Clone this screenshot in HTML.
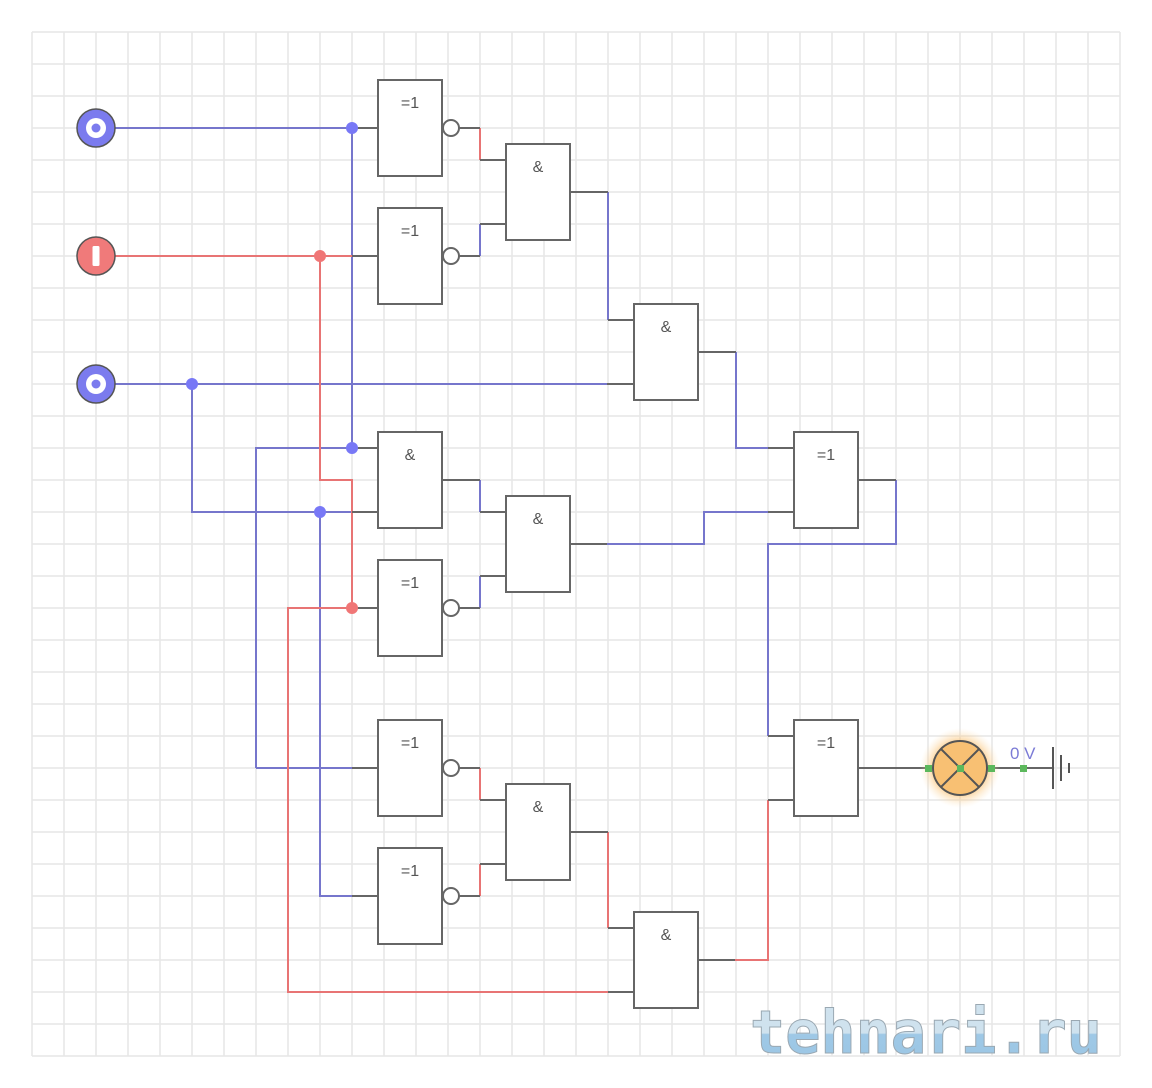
<!DOCTYPE html>
<html><head><meta charset="utf-8"><style>
html,body{margin:0;padding:0;background:#fff;}
svg{display:block;}
</style></head><body>
<svg width="1152" height="1088" viewBox="0 0 1152 1088" xmlns="http://www.w3.org/2000/svg">
<defs>
<radialGradient id="glow" cx="0.5" cy="0.5" r="0.5">
<stop offset="0.55" stop-color="#f9b55a" stop-opacity="0.9"/>
<stop offset="0.75" stop-color="#fbc67a" stop-opacity="0.45"/>
<stop offset="1" stop-color="#fde3bd" stop-opacity="0"/>
</radialGradient>
<linearGradient id="wm" x1="0" y1="0" x2="0" y2="1">
<stop offset="0" stop-color="#cfe2ee"/>
<stop offset="0.5" stop-color="#cfe2ee"/>
<stop offset="0.52" stop-color="#9ec8e6"/>
<stop offset="1" stop-color="#9cc6e4"/>
</linearGradient>
</defs>
<rect width="1152" height="1088" fill="#fff"/>
<g stroke="#e6e6e6" stroke-width="1.5">
<path d="M32 32V1056M64 32V1056M96 32V1056M128 32V1056M160 32V1056M192 32V1056M224 32V1056M256 32V1056M288 32V1056M320 32V1056M352 32V1056M384 32V1056M416 32V1056M448 32V1056M480 32V1056M512 32V1056M544 32V1056M576 32V1056M608 32V1056M640 32V1056M672 32V1056M704 32V1056M736 32V1056M768 32V1056M800 32V1056M832 32V1056M864 32V1056M896 32V1056M928 32V1056M960 32V1056M992 32V1056M1024 32V1056M1056 32V1056M1088 32V1056M1120 32V1056"/>
<path d="M32 32H1120M32 64H1120M32 96H1120M32 128H1120M32 160H1120M32 192H1120M32 224H1120M32 256H1120M32 288H1120M32 320H1120M32 352H1120M32 384H1120M32 416H1120M32 448H1120M32 480H1120M32 512H1120M32 544H1120M32 576H1120M32 608H1120M32 640H1120M32 672H1120M32 704H1120M32 736H1120M32 768H1120M32 800H1120M32 832H1120M32 864H1120M32 896H1120M32 928H1120M32 960H1120M32 992H1120M32 1024H1120M32 1056H1120"/>
</g>

<!-- watermark -->
<text x="750" y="1053" font-family="DejaVu Sans Mono, Liberation Mono, monospace" font-weight="bold" font-size="60" fill="url(#wm)" stroke="#9aa8b2" stroke-width="1" textLength="352" lengthAdjust="spacingAndGlyphs">tehnari.ru</text>

<!-- blue wires -->
<g fill="none" stroke="#7676cc" stroke-width="2">
<path d="M115 128H352"/>
<path d="M352 128V448"/>
<path d="M115 384H607"/>
<path d="M192 384V512H352"/>
<path d="M256 768V448H352"/>
<path d="M320 512V896H352"/>
<path d="M480 224V256"/>
<path d="M608 192V320"/>
<path d="M480 480V512"/>
<path d="M480 576V608"/>
<path d="M736 352V448H768"/>
<path d="M607 544H704V512H768"/>
<path d="M896 480V544H768V736"/>
<path d="M256 768H352"/>
</g>
<!-- red wires -->
<g fill="none" stroke="#e87474" stroke-width="2">
<path d="M115 256H352"/>
<path d="M320 256V480H352V608"/>
<path d="M352 608H288V992H608"/>
<path d="M480 128V160"/>
<path d="M480 768V800"/>
<path d="M480 864V896"/>
<path d="M608 832V928"/>
<path d="M734 960H768V800"/>
</g>

<!-- gray pins -->
<g fill="none" stroke="#666" stroke-width="2">
<path d="M352 128H378M352 256H378M352 448H378M352 512H378M352 608H378M352 768H378M352 896H378"/>
<path d="M459 128H480M459 256H480M459 608H480M459 768H480M459 896H480M442 480H480"/>
<path d="M480 160H506M480 224H506M480 512H506M480 576H506M480 800H506M480 864H506"/>
<path d="M570 192H608M570 544H607M570 832H608"/>
<path d="M608 320H634M607 384H634M608 928H634M608 992H634"/>
<path d="M698 352H736M698 960H735"/>
<path d="M768 448H794M768 512H794M768 736H794M768 800H794"/>
<path d="M858 480H896M858 768H928M991 768H1052"/>
</g>

<!-- gates -->
<g fill="#fff" stroke="#666" stroke-width="2">
<rect x="378" y="80" width="64" height="96"/>
<rect x="378" y="208" width="64" height="96"/>
<rect x="506" y="144" width="64" height="96"/>
<rect x="634" y="304" width="64" height="96"/>
<rect x="378" y="432" width="64" height="96"/>
<rect x="506" y="496" width="64" height="96"/>
<rect x="378" y="560" width="64" height="96"/>
<rect x="794" y="432" width="64" height="96"/>
<rect x="378" y="720" width="64" height="96"/>
<rect x="506" y="784" width="64" height="96"/>
<rect x="378" y="848" width="64" height="96"/>
<rect x="634" y="912" width="64" height="96"/>
<rect x="794" y="720" width="64" height="96"/>
<circle cx="451" cy="128" r="8"/>
<circle cx="451" cy="256" r="8"/>
<circle cx="451" cy="608" r="8"/>
<circle cx="451" cy="768" r="8"/>
<circle cx="451" cy="896" r="8"/>
</g>
<g font-family="Liberation Sans, sans-serif" font-size="16" fill="#555" text-anchor="middle">
<text x="410" y="108">=1</text>
<text x="410" y="236">=1</text>
<text x="538" y="172">&amp;</text>
<text x="666" y="332">&amp;</text>
<text x="410" y="460">&amp;</text>
<text x="538" y="524">&amp;</text>
<text x="410" y="588">=1</text>
<text x="826" y="460">=1</text>
<text x="410" y="748">=1</text>
<text x="538" y="812">&amp;</text>
<text x="410" y="876">=1</text>
<text x="666" y="940">&amp;</text>
<text x="826" y="748">=1</text>
</g>

<!-- junction dots -->
<g fill="#7878f6">
<circle cx="352" cy="128" r="6"/>
<circle cx="192" cy="384" r="6"/>
<circle cx="352" cy="448" r="6"/>
<circle cx="320" cy="512" r="6"/>
</g>
<g fill="#f07676">
<circle cx="320" cy="256" r="6"/>
<circle cx="352" cy="608" r="6"/>
</g>

<!-- inputs -->
<g stroke="#555" stroke-width="1.5">
<circle cx="96" cy="128" r="19" fill="#7b7bee"/>
<circle cx="96" cy="384" r="19" fill="#7b7bee"/>
<circle cx="96" cy="256" r="19" fill="#f07a7a"/>
</g>
<circle cx="96" cy="128" r="10" fill="#fff"/>
<circle cx="96" cy="128" r="4.5" fill="#7b7bee"/>
<circle cx="96" cy="384" r="10" fill="#fff"/>
<circle cx="96" cy="384" r="4.5" fill="#7b7bee"/>
<rect x="92.5" y="246" width="7" height="20" rx="1.5" fill="#fff"/>

<!-- lamp -->
<circle cx="960" cy="768" r="40" fill="url(#glow)"/>
<circle cx="960" cy="768" r="27" fill="#f8c073" stroke="#555" stroke-width="2"/>
<path d="M941 749L979 787M979 749L941 787" stroke="#555" stroke-width="2"/>
<g fill="#5cb85c">
<rect x="925" y="765" width="7" height="7"/>
<rect x="957" y="765" width="7" height="7"/>
<rect x="988" y="765" width="7" height="7"/>
<rect x="1020" y="765" width="7" height="7"/>
</g>
<text x="1010" y="759" font-family="Liberation Sans, sans-serif" font-size="17" fill="#7b7bd6">0 V</text>
<path d="M1053 747V789M1061 755V781M1069 763V773" stroke="#555" stroke-width="2"/>
</svg>
</body></html>
